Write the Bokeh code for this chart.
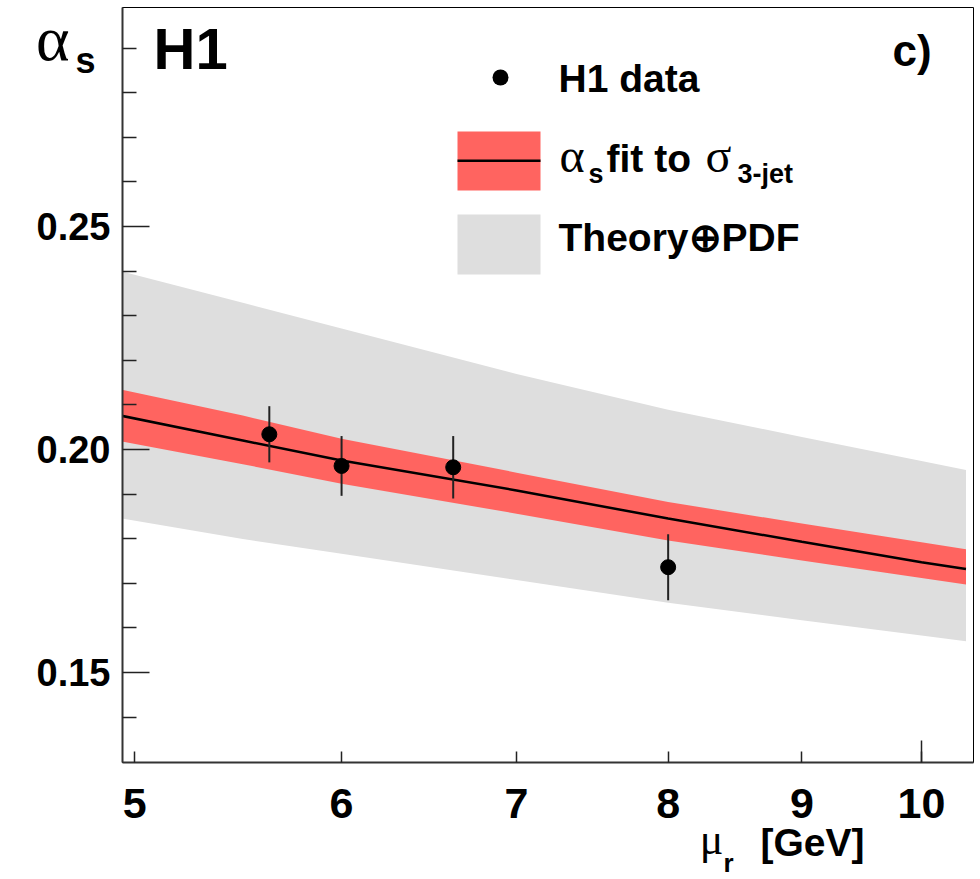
import math
import json
from bokeh.plotting import figure
from bokeh.models import (Range1d, FixedTicker, Label, BoxAnnotation, LinearAxis,
                          LogAxis, CustomJSTickFormatter)
from bokeh.embed import file_html
from bokeh.resources import INLINE

# ---------------- data ----------------
mu_data = [5.63, 6.00, 6.62, 8.00]
alpha_data = [0.2034, 0.1963, 0.1960, 0.1736]
alpha_err = [0.0063, 0.0067, 0.0070, 0.0074]

mu_band = [4.90, 5.50, 6.00, 7.00, 8.00, 9.00, 10.00, 10.40]
fit_central = [0.2080, 0.2020, 0.1975, 0.1908, 0.1845, 0.1793, 0.1747, 0.1732]
fit_up = [0.2139, 0.2076, 0.2024, 0.1948, 0.1882, 0.1834, 0.1792, 0.1776]
fit_down = [0.2022, 0.1967, 0.1923, 0.1856, 0.1796, 0.1751, 0.1712, 0.1697]
theo_up = [0.2405, 0.2329, 0.2271, 0.2169, 0.2089, 0.2028, 0.1974, 0.1954]
theo_down = [0.1849, 0.1799, 0.1766, 0.1707, 0.1656, 0.1617, 0.1583, 0.1570]

x_ticks = [5, 6, 7, 8, 9, 10]
y_ticks = [0.15, 0.20, 0.25]
y_minor = [0.14, 0.16, 0.17, 0.18, 0.19, 0.21, 0.22, 0.23, 0.24, 0.26, 0.27, 0.28, 0.29]

XMIN, XMAX = 4.947, 10.469
YMIN, YMAX = 0.1298, 0.2991

SANS = "Liberation Sans"
SERIF = "Liberation Serif"
RED = "#ff6460"
GREY = "#dedede"

W, H = 978, 879
FL, FR, FT, FB = 122.0, 973.0, 7.0, 762.0

p = figure(width=W, height=H, x_axis_type="log",
           x_range=Range1d(XMIN, XMAX), y_range=Range1d(YMIN, YMAX),
           output_backend="svg", toolbar_location=None,
           min_border_left=int(FL), min_border_right=int(W - FR),
           min_border_top=int(FT), min_border_bottom=int(H - FB))
p.xgrid.visible = False
p.ygrid.visible = False
p.outline_line_color = "black"
p.outline_line_width = 1
p.background_fill_color = "white"

# bands
p.varea(x=mu_band, y1=theo_down, y2=theo_up, fill_color=GREY)
p.varea(x=mu_band, y1=fit_down, y2=fit_up, fill_color=RED)
p.line(x=mu_band, y=fit_central, line_color="black", line_width=2.5)

# data points
lo = [a - e for a, e in zip(alpha_data, alpha_err)]
hi = [a + e for a, e in zip(alpha_data, alpha_err)]
p.segment(x0=mu_data, y0=lo, x1=mu_data, y1=hi, line_color="#222222", line_width=2)
p.scatter(x=mu_data, y=alpha_data, size=15, marker="circle",
          fill_color="black", line_color="black")

# axes
xa = p.xaxis[0]
xa.ticker = FixedTicker(ticks=x_ticks, minor_ticks=[10])
xa.formatter = CustomJSTickFormatter(code="return String(Math.round(tick));")
xa.major_tick_in = 11
xa.major_tick_out = 0
xa.minor_tick_in = 22
xa.minor_tick_out = 0
xa.major_label_standoff = 26
xa.major_label_text_font = SANS
xa.major_label_text_font_style = "bold"
xa.major_label_text_font_size = "43px"
xa.major_label_text_color = "black"
xa.axis_line_width = 2
xa.axis_line_color = "#333333"
xa.major_tick_line_color = "#222222"
xa.minor_tick_line_color = "#222222"
xa.major_tick_line_width = 1.5
xa.minor_tick_line_width = 1.5

ya = p.yaxis[0]
ya.ticker = FixedTicker(ticks=y_ticks, minor_ticks=y_minor)
ya.formatter = CustomJSTickFormatter(code="return tick.toFixed(2);")
ya.major_tick_in = 27
ya.major_tick_out = 0
ya.minor_tick_in = 14
ya.minor_tick_out = 0
ya.major_label_standoff = 12
ya.major_label_text_font = SANS
ya.major_label_text_font_style = "bold"
ya.major_label_text_font_size = "38px"
ya.major_label_text_color = "black"
ya.axis_line_width = 2
ya.axis_line_color = "#333333"
ya.major_tick_line_color = "#222222"
ya.minor_tick_line_color = "#222222"
ya.major_tick_line_width = 1.5
ya.minor_tick_line_width = 1.5

# helpers mapping reference pixel positions to data coords (annotation placement)
def dx(px):
    lx = math.log10(XMIN) + (px - FL) / (FR - FL) * (math.log10(XMAX) - math.log10(XMIN))
    return 10 ** lx
def dy(py):
    return YMIN + (FB - py) / (FB - FT) * (YMAX - YMIN)

def add_text(txt, px, baseline, size, font=SANS, style="bold", align="left",
             side="center"):
    mid = baseline - 0.38 * size
    p.add_layout(Label(x=dx(px), y=dy(mid), text=txt, text_font=font,
                       text_font_style=style, text_font_size=f"{size}px",
                       text_color="black", text_align=align,
                       text_baseline="middle"), side)

def text_axis(side, pos, txt, size, standoff, font=SANS, style="bold"):
    # an invisible extra axis whose single tick label carries an axis title;
    # the negative standoff keeps it from taking up border space
    ax = LinearAxis() if side in ("left", "right") else LogAxis()
    ax.ticker = FixedTicker(ticks=[pos], minor_ticks=[])
    ax.formatter = CustomJSTickFormatter(code="return " + json.dumps(txt) + ";")
    ax.axis_line_color = None
    ax.major_tick_line_color = None
    ax.minor_tick_line_color = None
    ax.major_tick_in = 0
    ax.major_tick_out = 0
    ax.minor_tick_in = 0
    ax.minor_tick_out = 0
    ax.major_label_standoff = standoff
    ax.major_label_text_font = font
    ax.major_label_text_font_style = style
    ax.major_label_text_font_size = f"{size}px"
    ax.major_label_text_color = "black"
    p.add_layout(ax, side)

# texts inside the frame
add_text("H1", 153, 70, 58)
add_text("c)", 892, 67, 44)

# y axis title  "alpha_s"
text_axis("left", dy(55 - 0.34 * 64), "\u03b1", 64, -36, font=SERIF, style="normal")
text_axis("left", dy(72 - 0.34 * 36), "s", 36, -63)
# x axis title  "mu_r [GeV]"
text_axis("below", dx(812), "[GeV]", 39, 0)
text_axis("below", dx(711), "\u03bc", 44, -52, font=SERIF, style="normal")
add_text("r", 723, 872, 26, side="left")

# ---- legend (drawn manually) ----
def add_box(px0, px1, py0, py1, color, radius=0):
    kw = dict(left=dx(px0), right=dx(px1), top=dy(py0), bottom=dy(py1),
              fill_color=color, fill_alpha=1.0, line_alpha=0)
    if radius:
        kw["border_radius"] = radius
    p.add_layout(BoxAnnotation(**kw))

add_box(492, 508, 69, 85, "black", radius=8)
add_text("H1 data", 558, 93, 39)
add_box(457, 540, 131, 190, RED)
add_box(457, 540, 159, 161.5, "black")
add_text("\u03b1", 559, 173, 48, font=SERIF, style="normal")
add_text("s", 588, 184, 27)
add_text("fit to", 606, 173, 39)
add_text("\u03c3", 705, 173, 48, font=SERIF, style="normal")
add_text("3-jet", 737, 184, 27)
add_box(457, 540, 214, 274, GREY)
add_text("Theory\u2295PDF", 558, 252, 39)

open("out.html", "w").write(file_html(p, INLINE))
